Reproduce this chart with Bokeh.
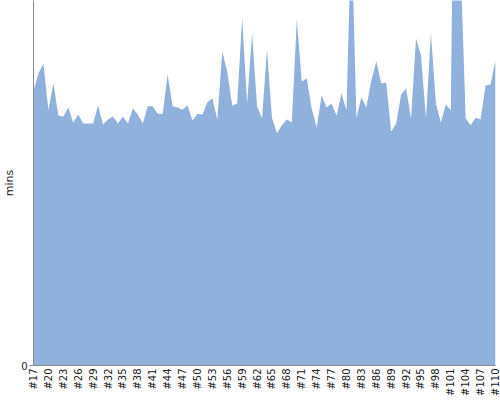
import math
from bokeh.plotting import figure
from bokeh.models import ColumnDataSource, Range1d, FixedTicker
from bokeh.embed import file_html
from bokeh.resources import INLINE

# categories (build numbers)
builds = list(range(17, 111))
categories = [f"#{n}" for n in builds]

# duration in minutes
mins = [
    75.3, 80.0, 82.7, 69.9, 77.3, 68.5, 68.2, 70.7, 66.6, 68.8,
    66.3, 66.3, 66.3, 71.2, 66.0, 67.4, 68.2, 66.3, 68.2, 66.3,
    70.4, 68.8, 66.3, 71.0,
    71.0, 69.0, 69.0, 79.7, 71.0, 70.7, 70.1, 71.2, 67.1, 69.0,
    68.8, 72.1, 73.2, 67.4, 86.0, 80.5, 71.2, 71.8, 95.3, 71.8,
    91.0, 71.0, 67.7, 86.6,
    67.9, 63.6, 65.8, 67.4, 66.6, 94.8, 77.8, 78.6, 70.4, 65.2,
    74.0, 70.7, 71.8, 68.5, 74.5, 69.9, 120.5, 67.9, 73.4, 70.7,
    78.1, 83.3, 77.3, 77.5,
    64.1, 66.3, 74.2, 75.9, 67.7, 89.6, 84.9, 67.7, 91.0, 71.8,
    66.6, 71.5, 69.9, 195.0, 109.0, 67.7, 65.8, 67.9, 67.4, 76.7,
    77.0, 83.6,
]

y_max = 100
tick_values = [0]

source = ColumnDataSource(data=dict(x=builds, y=mins))

p = figure(
    width=500, height=400,
    output_backend="svg", toolbar_location=None,
    x_range=Range1d(builds[0], builds[-1]),
    y_range=Range1d(0, y_max),
    min_border_left=33, min_border_right=5,
    min_border_top=0, min_border_bottom=35,
)
p.outline_line_color = None
p.background_fill_color = "white"
p.border_fill_color = "white"
p.grid.visible = False

p.varea(x="x", y1=0, y2="y", source=source, fill_color="#8FB1DB", fill_alpha=1.0)

# x axis
p.xaxis.ticker = FixedTicker(ticks=builds[::3])
p.xaxis.major_label_overrides = {b: c for b, c in zip(builds, categories)}
p.xaxis.major_label_orientation = math.pi / 2
p.xaxis.major_tick_line_color = None
p.xaxis.major_tick_out = 0
p.xaxis.major_tick_in = 0
p.xaxis.minor_tick_line_color = None
p.xaxis.axis_line_color = "#888888"
p.xaxis.major_label_text_font = "DejaVu Sans"
p.xaxis.major_label_text_font_size = "10px"
p.xaxis.major_label_text_color = "#222222"
p.xaxis.major_label_standoff = 3

# y axis
p.yaxis.ticker = FixedTicker(ticks=tick_values)
p.yaxis.minor_tick_line_color = None
p.yaxis.axis_line_color = "#888888"
p.yaxis.major_tick_line_color = "#888888"
p.yaxis.major_tick_out = 4
p.yaxis.major_tick_in = 0
p.yaxis.major_label_text_font = "DejaVu Sans"
p.yaxis.major_label_text_font_size = "10px"
p.yaxis.major_label_text_color = "#222222"
p.yaxis.major_label_standoff = 2
p.yaxis.axis_label = "mins"
p.yaxis.axis_label_text_font = "DejaVu Sans"
p.yaxis.axis_label_text_font_style = "normal"
p.yaxis.axis_label_text_font_size = "11px"
p.yaxis.axis_label_text_color = "#222222"
p.yaxis.axis_label_standoff = 2

open("out.html", "w").write(file_html(p, INLINE))
